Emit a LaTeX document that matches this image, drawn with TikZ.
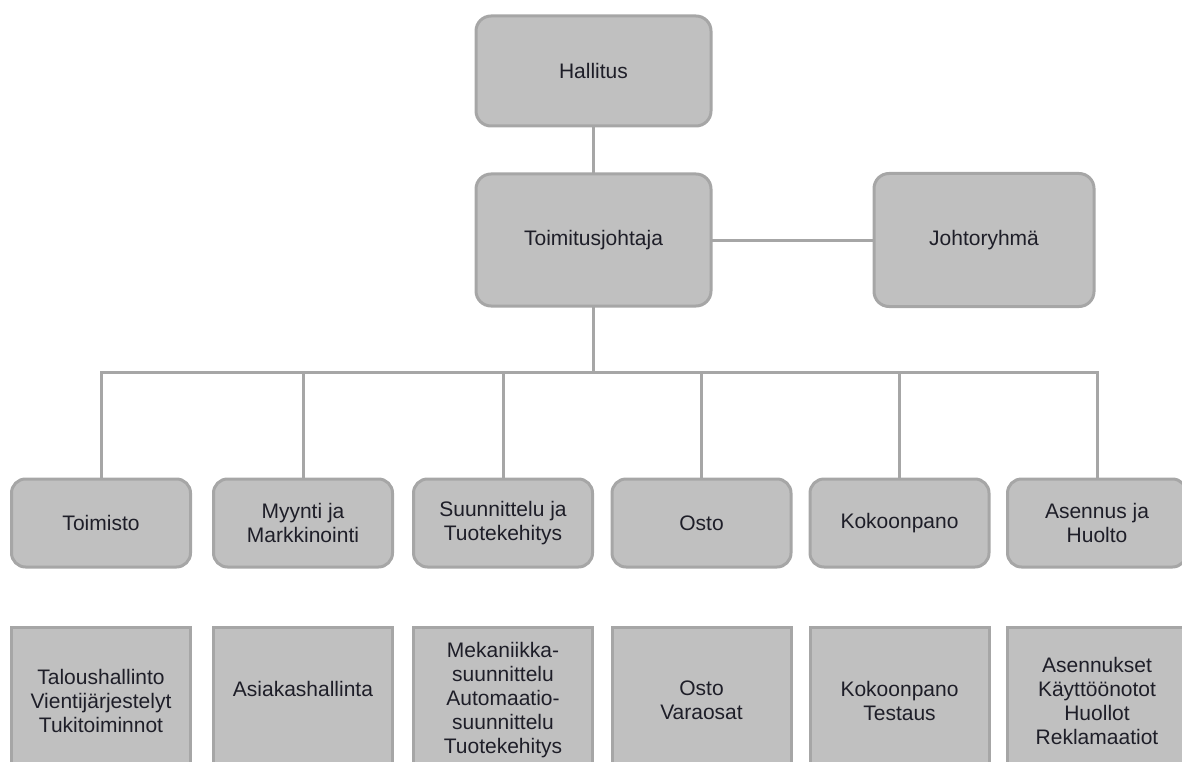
\documentclass[tikz,border=0pt]{standalone}
\usepackage{fontspec}
\setmainfont{Liberation Sans}
\usetikzlibrary{backgrounds}
\definecolor{boxfill}{HTML}{C0C0C0}
\definecolor{boxline}{HTML}{A6A6A6}
\definecolor{txt}{HTML}{1E1E28}
\tikzset{
  unit/.style={draw=boxline, line width=3pt, fill=boxfill, text=txt,
    align=center, inner sep=0pt, outer sep=0pt,
    font=\fontsize{21}{24}\selectfont},
  bigbox/.style={unit, rounded corners=15pt, minimum width=235pt},
  midbox/.style={unit, rounded corners=14pt, minimum width=179pt, minimum height=88pt},
  lowbox/.style={unit, minimum width=179pt, minimum height=147pt},
  conn/.style={draw=boxline, line width=3pt}
}
\begin{document}
\begin{tikzpicture}[x=1pt, y=-1pt]
\useasboundingbox (0,0) rectangle (1182,762);
\clip (0,0) rectangle (1182,762);
% top
\node[bigbox, minimum height=110pt] (hal) at (593.5,71) {Hallitus};
\node[bigbox, minimum height=132pt] (tj) at (593.5,240) {Toimitusjohtaja};
\node[bigbox, minimum width=220pt, minimum height=133pt] (jr) at (984,240) {Johtoryhmä};
% middle row
\node[midbox] (m1) at (101,523) {Toimisto};
\node[midbox] (m2) at (303,523) {Myynti ja\\Markkinointi};
\node[midbox] (m3) at (503,523) {Suunnittelu ja\\Tuotekehitys};
\node[midbox] (m4) at (701.5,523) {Osto};
\node[midbox] (m5) at (899.5,523) {Kokoonpano};
\node[midbox] (m6) at (1097,523) {Asennus ja\\Huolto};
% bottom row
\node[lowbox] (b1) at (101,700.5) {Taloushallinto\\Vientijärjestelyt\\Tukitoiminnot};
\node[lowbox] (b2) at (303,700.5) {Asiakashallinta\\\mbox{}};
\node[lowbox] (b3) at (503,700.5) {Mekaniikka-\\suunnittelu\\Automaatio-\\suunnittelu\\Tuotekehitys};
\node[lowbox] (b4) at (701.5,700.5) {Osto\\Varaosat};
\node[lowbox] (b5) at (899.5,700.5) {Kokoonpano\\Testaus};
\node[lowbox] (b6) at (1097,700.5) {Asennukset\\Käyttöönotot\\Huollot\\Reklamaatiot};
% connectors (behind boxes)
\begin{scope}[on background layer]
\coordinate (bus) at (593.5,372);
\path[conn] (hal.south) -- (tj.north);
\path[conn] (tj.east) -- (jr.west);
\path[conn] (tj.south) -- (bus);
\foreach \c in {m1,m2,m3,m4,m5,m6}{
  \path[conn] (bus) -| (\c.north);
}
\end{scope}
\end{tikzpicture}
\end{document}
